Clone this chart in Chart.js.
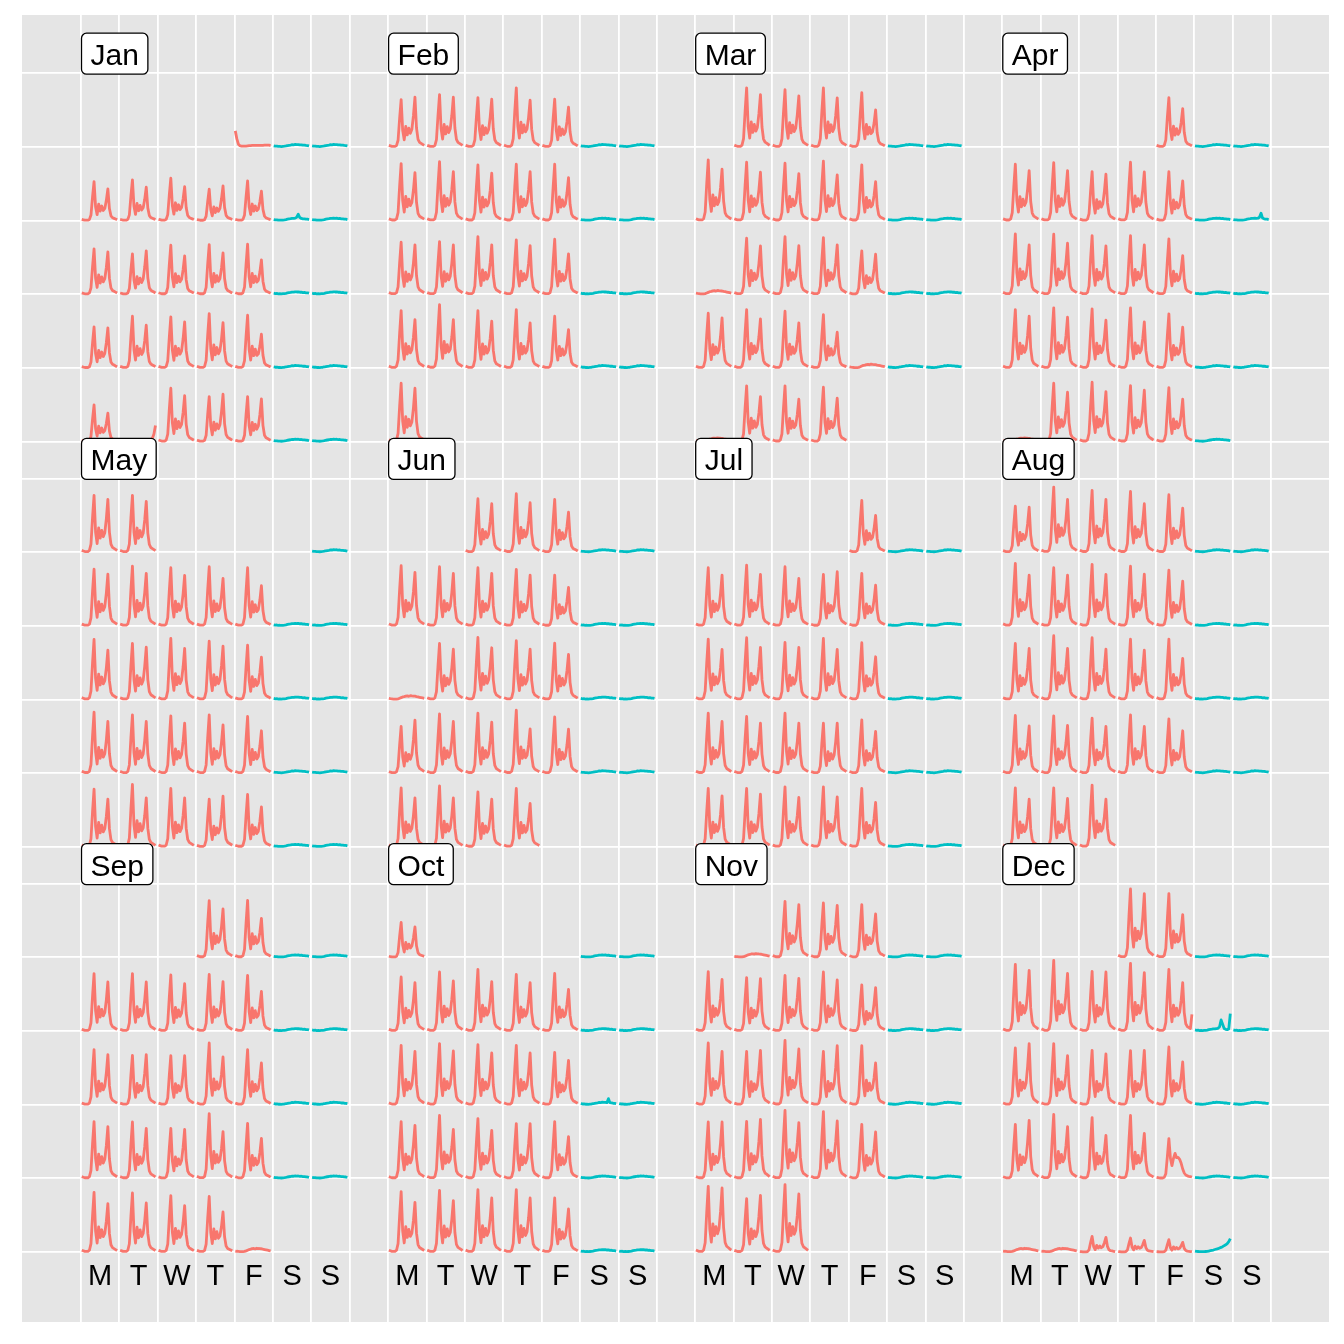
<!DOCTYPE html>
<html><head><meta charset="utf-8">
<script src="https://cdn.jsdelivr.net/npm/chart.js@4.4.1/dist/chart.umd.min.js"></script>
<style>html,body{margin:0;padding:0;background:#fff;}#wrap{width:1344px;height:1344px;}</style>
</head><body><div id="wrap"><canvas id="c" width="1344" height="1344"></canvas></div>
<script>
// ---------- data ----------
const year = 2016;
const months = ['Jan','Feb','Mar','Apr','May','Jun','Jul','Aug','Sep','Oct','Nov','Dec'];
const dayLabels = ['M','T','W','T','F','S','S'];
const hours = [0,1,2,3,4,5,6,7,8,9,10,11,12,13,14,15,16,17,18,19,20,21,22,23];

// typical weekday profile (share of morning peak / of evening peak)
const weekdayAM = [0.03,0.02,0.01,0.01,0.01,0.03,0.14,0.60,1.00,0.35,0.15,0.38,0.20,0.30,0.16,0.10,0.03,0,0,0,0,0,0,0];
const weekdayPM = [0,0,0,0,0,0,0,0,0,0,0,0.05,0.05,0.09,0.12,0.26,0.60,1.00,0.38,0.15,0.09,0.07,0.05,0.03];
// typical weekend and public-holiday hourly counts
const weekendCounts = [60,40,45,25,30,20,30,40,55,80,95,110,130,125,145,135,140,120,125,100,105,85,80,60];
const holidayCounts = [60,45,35,25,20,20,35,70,110,150,170,200,210,190,225,210,200,195,170,150,130,110,90,70];

// morning / evening peak counts for each day (null = weekend or special day, 0 = holiday)
const amPeak = [
 [null,null,null,2340,2440,2540,1880,2380,null,null,2720,2420,2940,2980,3000,null,null,2460,3100,3060,3260,3160,null,null,2200,null,3200,2700,2700,null,null],
 [2840,3140,2960,3540,2860,null,null,3420,3540,3340,3380,3380,null,null,3120,3160,3460,3260,3300,null,null,3440,3800,3440,3500,3100,null,null,3500],
 [3540,3440,3540,3260,null,null,3640,3500,3440,3560,3340,null,null,0,3360,3460,3400,2600,null,null,3280,3500,3400,3200,0,null,null,0,3340,3340,3260],
 [2960,null,null,3380,3480,2940,3500,2940,null,null,3620,3600,3520,3520,3320,null,null,3500,3600,3540,3600,3240,null,null,0,3500,3560,3360,3240,null],
 [null,3400,3580,3480,3540,3480,null,null,3600,3360,3660,3500,3260,null,null,3660,3500,3440,3500,3400,null,null,3460,3740,3500,2860,3140,null,null,3400,3400],
 [3200,3500,3160,null,null,3600,3540,3480,3380,3040,null,null,0,3360,3720,3520,3380,null,null,2800,3560,3600,3780,3380,null,null,3540,3660,3300,3500],
 [3100,null,null,3480,3640,3540,3080,3140,null,null,3620,3700,3420,3660,3400,null,null,3600,3400,3600,3000,3200,null,null,3500,3500,3600,3600,3500,null,null],
 [2760,3900,3700,3640,3440,null,null,3740,3480,3680,3580,3340,null,null,3360,3820,3700,3620,3620,null,null,3460,3440,3300,3500,3260,null,null,3540,3540,3700],
 [3400,3420,null,null,3440,3440,3360,3400,3340,null,null,3300,2960,2940,3700,3300,null,null,3400,3380,3000,3880,3300,null,null,3580,3540,3380,3340,0],
 [null,null,3240,3540,3700,3400,3460,null,null,3560,3660,3600,3560,3140,null,null,3400,3780,3580,3280,3400,null,null,3620,3700,3740,3740,3240,null,null,2100],
 [0,3360,3260,3160,null,null,3560,3200,3340,3540,2760,null,null,3700,3200,3860,3200,3540,null,null,3380,3420,4080,4000,3240,null,null,3940,3200,4040],
 [4100,3820,null,null,4000,4240,3580,4060,null,null,null,3400,3660,3260,3240,3460,null,null,3240,3840,3640,3780,null,null,null,0,0,940,840,740,null]
];
const pmPeak = [
 [null,null,null,1900,2000,2040,2080,1760,null,null,2540,2600,2300,2480,2060,null,null,2400,2560,2760,2720,2020,null,null,1700,null,2760,2840,2560,null,null],
 [2980,2980,2860,2800,2380,null,null,2880,2940,2840,2940,2580,null,null,2960,2960,2960,2920,2420,null,null,2900,2900,2800,2700,2300,null,null,3200],
 [3140,3060,2940,2220,null,null,3080,2900,2820,2740,2340,null,null,0,2900,2920,2960,2400,null,null,3000,2940,2700,2140,0,null,null,0,2700,2540,2600],
 [2300,null,null,3000,3000,2780,2920,2380,null,null,2960,3060,2900,2960,2320,null,null,3100,3040,2860,2760,2440,null,null,0,2960,3000,3080,2540,null],
 [null,3100,3140,3020,2840,2400,null,null,2960,3140,3060,3200,2540,null,null,3100,3100,3000,2900,2540,null,null,2860,2940,2940,3040,2400,null,null,3160,3040],
 [2900,2960,2400,null,null,3200,3140,3140,3040,2300,null,null,0,3020,3100,3020,2700,null,null,3180,3100,3060,2660,2640,null,null,2940,2940,2860,2600],
 [2200,null,null,3040,3080,2840,3240,2440,null,null,3000,3120,3120,3000,2560,null,null,3100,3000,3000,3000,2500,null,null,3060,3160,2960,3000,2660,null,null],
 [2700,3160,3160,2900,2640,null,null,3040,3040,3080,3100,2680,null,null,3060,3060,3020,2960,2460,null,null,2840,2860,2800,2800,2540,null,null,2860,2900,2860],
 [2900,2340,null,null,2940,2940,2840,2960,2380,null,null,3000,3000,2940,2860,2500,null,null,3100,3000,2940,2800,2400,null,null,2900,2940,2780,2400,0],
 [null,null,2900,3000,2960,2900,2500,null,null,3200,3220,3100,3100,2660,null,null,3180,2940,2880,3280,2500,null,null,2980,3080,3240,3240,2580,null,null,1820],
 [0,3160,3120,2600,null,null,3100,3140,3160,3060,2600,null,null,3200,3260,3340,3540,2500,null,null,3380,3540,3340,3440,2780,null,null,3840,3400,3480],
 [3820,2560,null,null,3640,3460,3540,3500,null,null,null,3660,2940,3040,3260,2560,null,null,3480,3100,2580,2700,null,null,null,0,0,880,700,580,null]
];
// days whose hourly counts were read one by one
const specialDays = {
 '2016-01-01': [960,480,160,70,50,40,40,50,60,70,80,90,90,90,90,90,90,90,90,100,110,110,100,80],
 '2016-01-09': [60,40,45,25,30,20,30,40,55,80,95,110,130,125,145,200,380,180,125,100,105,85,80,60],
 '2016-01-26': [60,45,35,25,20,20,30,50,70,80,90,100,100,100,100,100,100,100,100,100,100,200,450,960],
 '2016-04-10': [60,40,45,25,30,20,30,40,55,80,95,110,130,125,145,135,140,200,440,150,105,85,80,60],
 '2016-10-15': [60,40,45,25,30,20,30,40,55,80,95,110,130,125,145,135,140,120,360,120,105,85,80,60],
 '2016-12-09': [111,74,37,37,37,111,518,2220,3700,1295,555,1551,885,1371,940,1124,1851,2900,1102,435,261,203,145,1000],
 '2016-12-10': [60,40,45,25,30,20,30,40,55,80,95,110,130,125,145,160,250,660,400,150,100,80,120,1040],
 '2016-12-23': [60,40,20,20,20,60,280,1300,2380,1200,760,1200,1500,1240,1260,1140,900,560,320,200,150,120,100,80],
 '2016-12-31': [60,40,30,20,20,20,20,30,40,60,80,100,120,150,180,200,240,280,320,380,430,500,620,800]
};

// ---------- layout ----------
const ROW_COUNTS = 4420;          // counts spanned by one calendar row
const RED = '#F8766D', TEAL = '#00BFC4';
const datasets = [];
for (let m = 0; m < 12; m++) {
  const gx = (m % 4) * 8, top = 16 - Math.floor(m / 4) * 5.5;
  const nDays = new Date(year, m + 1, 0).getDate();
  const firstWd = (new Date(year, m, 1).getDay() + 6) % 7;
  for (let d = 1; d <= nDays; d++) {
    const wd = (firstWd + d - 1) % 7;
    let wk = Math.floor((firstWd + d - 1) / 7); if (wk >= 5) wk -= 5;
    const base = top - (wk + 1);
    const key = year + '-' + String(m + 1).padStart(2, '0') + '-' + String(d).padStart(2, '0');
    const am = amPeak[m][d - 1], pm = pmPeak[m][d - 1];
    let vals;
    if (specialDays[key]) vals = specialDays[key];
    else if (wd >= 5) vals = weekendCounts;
    else if (am === 0) vals = holidayCounts;
    else vals = hours.map(h => am * weekdayAM[h] + pm * weekdayPM[h]);
    datasets.push({
      data: hours.map((h, i) => ({ x: gx + wd + 0.02 + h * 0.04, y: base + vals[i] / ROW_COUNTS })),
      borderColor: wd >= 5 ? TEAL : RED,
      borderWidth: 2.8, pointRadius: 0, fill: false, tension: 0,
      borderJoinStyle: 'round', borderCapStyle: 'butt'
    });
  }
}
const xLines = Array.from({ length: 32 }, (_, i) => i);
const yLines = [0,1,2,3,4,5,5.5,6.5,7.5,8.5,9.5,10.5,11,12,13,14,15,16];

const FONT = '"Liberation Sans", Arial, Helvetica, sans-serif';
const panelPlugin = {
  id: 'panel',
  beforeDraw(chart) {
    const { ctx, chartArea: a } = chart;
    ctx.save(); ctx.fillStyle = '#E5E5E5';
    ctx.fillRect(a.left, a.top, a.right - a.left, a.bottom - a.top); ctx.restore();
  },
  afterDatasetsDraw(chart) {
    const { ctx, scales: { x, y } } = chart;
    ctx.save();
    // weekday labels
    ctx.fillStyle = '#000'; ctx.font = '29px ' + FONT;
    ctx.textAlign = 'center'; ctx.textBaseline = 'alphabetic';
    for (let c = 0; c < 4; c++) dayLabels.forEach((t, i) => {
      ctx.fillText(t, x.getPixelForValue(c * 8 + i + 0.5), y.getPixelForValue(-0.3) + 10.5);
    });
    // month labels
    ctx.font = '30px ' + FONT; ctx.textAlign = 'left';
    months.forEach((name, m) => {
      const px = x.getPixelForValue((m % 4) * 8) + 0.5;
      const py = y.getPixelForValue(16 - Math.floor(m / 4) * 5.5) + 1;
      const w = ctx.measureText(name).width + 18, h = 41;
      ctx.beginPath(); ctx.roundRect(px, py - h, w, h, 5);
      ctx.fillStyle = '#fff'; ctx.fill();
      ctx.lineWidth = 1.3; ctx.strokeStyle = '#000'; ctx.stroke();
      ctx.fillStyle = '#000'; ctx.fillText(name, px + 9, py - 9);
    });
    ctx.restore();
  }
};

new Chart(document.getElementById('c'), {
  type: 'line',
  data: { datasets },
  options: {
    responsive: false, animation: false, devicePixelRatio: 1, events: [],
    layout: { padding: { left: 22, right: 15, top: 15, bottom: 22 } },
    plugins: { legend: { display: false }, tooltip: { enabled: false } },
    scales: {
      x: { type: 'linear', min: -1.537, max: 32.511,
           afterBuildTicks: s => { s.ticks = xLines.map(v => ({ value: v })); },
           ticks: { display: false }, border: { display: false },
           grid: { color: '#FFFFFF', lineWidth: 1.8, drawTicks: false } },
      y: { type: 'linear', min: -0.95, max: 16.79,
           afterBuildTicks: s => { s.ticks = yLines.map(v => ({ value: v })); },
           ticks: { display: false }, border: { display: false },
           grid: { color: '#FFFFFF', lineWidth: 1.8, drawTicks: false } }
    }
  },
  plugins: [panelPlugin]
});
</script></body></html>
